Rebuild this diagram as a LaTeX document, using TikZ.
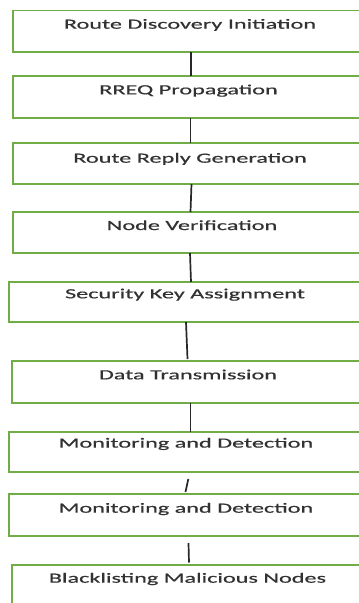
\documentclass[tikz,border=0pt]{standalone}
\usepackage{fontspec}
\setmainfont{Carlito}
% stretched, slightly heavier face for the step labels
\newfontfamily\stepfont{Carlito}[FakeStretch=1.73, FakeBold=0.5]
\definecolor{boxgreen}{RGB}{112,173,71}
\definecolor{textgray}{RGB}{50,50,50}
\definecolor{linkgray}{RGB}{40,40,40}
\tikzset{
  stepbox/.style={draw=boxgreen, line width=1.3pt, fill=white, inner sep=0pt,
    outer sep=0pt, anchor=north west},
  steptext/.style={anchor=base, inner sep=0pt, text=textgray,
    font=\stepfont\fontsize{14}{16}\selectfont},
  link/.style={draw=linkgray, line width=1.7pt},
}
\begin{document}
\begin{tikzpicture}[x=1pt, y=-1pt]
\useasboundingbox (0,0) rectangle (359,603);

% process boxes (they run past the right edge)
\node[stepbox, minimum width=354pt, minimum height=41.5pt] (b1) at (13,10.5) {};
\node[stepbox, minimum width=354pt, minimum height=42pt]   (b2) at (13,76) {};
\node[stepbox, minimum width=354pt, minimum height=41pt]   (b3) at (13,143) {};
\node[stepbox, minimum width=354pt, minimum height=41pt]   (b4) at (13,212) {};
\node[stepbox, minimum width=358pt, minimum height=40pt]   (b5) at (9,282) {};
\node[stepbox, minimum width=355pt, minimum height=42pt]   (b6) at (12,361) {};
\node[stepbox, minimum width=358pt, minimum height=40pt]   (b7) at (9,432) {};
\node[stepbox, minimum width=358pt, minimum height=42pt]   (b8) at (9,494) {};
\node[stepbox, minimum width=355pt, minimum height=50pt]   (b9) at (12,565) {};

% step labels
\node[steptext] (t1) at (190,28.7)  {Route Discovery Initiation};
\node[steptext] (t2) at (188.5,94.3) {RREQ Propagation};
\node[steptext] (t3) at (190,162.7) {Route Reply Generation};
\node[steptext] (t4) at (192,230)   {Node Verification};
\node[steptext] (t5) at (185,298.3) {Security Key Assignment};
\node[steptext] (t6) at (188,379.3) {Data Transmission};
\node[steptext] (t7) at (186,447.6) {Monitoring and Detection};
\node[steptext] (t8) at (186,512.7) {Monitoring and Detection};
\node[steptext] (t9) at (187.5,582.7) {Blacklisting Malicious Nodes};

% connectors between consecutive steps
\draw[link] ([xshift=1pt]b1.south) -- ([xshift=1pt]b2.north);
\draw[link] ([xshift=0.5pt]b2.south) -- ([xshift=0.5pt]b3.north);
\draw[link] ([xshift=1.5pt]b3.south) -- ([xshift=0.5pt]b4.north);
\draw[link] ([xshift=0pt]b4.south) -- ([xshift=3pt]b5.north);
\draw[link] ([xshift=-2pt]b5.south) -- ([xshift=-2pt,yshift=2pt]b6.north);
\draw[link] ([xshift=1pt]b6.south) -- ([xshift=2.5pt]b7.north);
\draw[link] ([xshift=0.3pt,yshift=-7pt]b7.south) -- ([xshift=-2.5pt,yshift=2pt]b8.north);
\draw[link] ([xshift=0.5pt,yshift=-7pt]b8.south) -- ([xshift=-0.5pt,yshift=2.5pt]b9.north);
\end{tikzpicture}
\end{document}
